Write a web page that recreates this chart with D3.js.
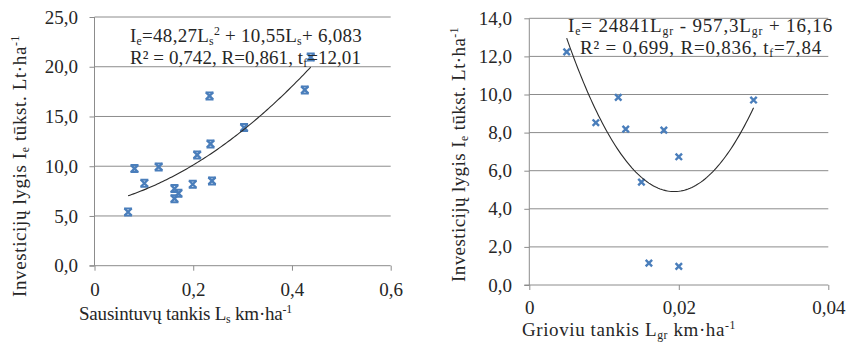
<!DOCTYPE html>
<html><head><meta charset="utf-8">
<script src="https://cdn.jsdelivr.net/npm/d3@7"></script>
<style>
body{margin:0;background:#fff;}
svg{display:block;font-family:"Liberation Serif","Times New Roman",serif;}
</style></head>
<body>
<svg id="c" width="847" height="342"></svg>
<script>
// ---- Left chart data ----
const leftX = [0.068, 0.081, 0.101, 0.130, 0.162, 0.170, 0.162, 0.199, 0.208, 0.233, 0.235, 0.238, 0.303, 0.426, 0.438];
const leftY = [5.40, 9.76, 8.29, 9.93, 7.75, 7.28, 6.74, 8.19, 11.14, 17.07, 12.24, 8.52, 13.88, 17.67, 20.97];
const leftXTicks = [0, 0.2, 0.4, 0.6];
const leftXTickLabels = ["0", "0,2", "0,4", "0,6"];
const leftYTicks = [0, 5, 10, 15, 20, 25];
const leftYTickLabels = ["0,0", "5,0", "10,0", "15,0", "20,0", "25,0"];
const leftFit = [48.27, 10.55, 6.083]; // a, b, c

// ---- Right chart data ----
const rightX = [0.0050, 0.0089, 0.0119, 0.0129, 0.0150, 0.0160, 0.0180, 0.0200, 0.0200, 0.0300];
const rightY = [12.24, 8.52, 9.85, 8.18, 5.40, 1.15, 8.13, 6.73, 0.98, 9.71];
const rightXTicks = [0, 0.02, 0.04];
const rightXTickLabels = ["0", "0,02", "0,04"];
const rightYTicks = [0, 2, 4, 6, 8, 10, 12, 14];
const rightYTickLabels = ["0,0", "2,0", "4,0", "6,0", "8,0", "10,0", "12,0", "14,0"];

// least-squares quadratic fit
function quadFit(xs, ys){
  let n=xs.length, S=[0,0,0,0,0], T=[0,0,0];
  for(let i=0;i<n;i++){const x=xs[i],y=ys[i];
    for(let k=0;k<5;k++)S[k]+=Math.pow(x,k);
    for(let k=0;k<3;k++)T[k]+=y*Math.pow(x,k);}
  const M=[[S[4],S[3],S[2],T[2]],[S[3],S[2],S[1],T[1]],[S[2],S[1],S[0],T[0]]];
  for(let i=0;i<3;i++){for(let j=i+1;j<3;j++){const f=M[j][i]/M[i][i];for(let k=i;k<4;k++)M[j][k]-=f*M[i][k];}}
  const r=[0,0,0];
  for(let i=2;i>=0;i--){let s=M[i][3];for(let k=i+1;k<3;k++)s-=M[i][k]*r[k];r[i]=s/M[i][i];}
  return r;
}
const rightFit = quadFit(rightX, rightY);

const svg = d3.select("#c");
const GRID = "#8c8c8c", AXIS = "#8c8c8c", MARK = "#4a7ebb", TXT = "#262626";
const FS = 19;

function drawPanel(o){
  const g = svg.append("g");
  const x = d3.scaleLinear().domain(o.xd).range(o.xr);
  const y = d3.scaleLinear().domain(o.yd).range(o.yr);
  g.selectAll(".gl").data(o.yTicks.slice(1)).join("line")
    .attr("x1", o.xr[0]).attr("x2", o.xr[1])
    .attr("y1", d=>y(d)).attr("y2", d=>y(d))
    .attr("stroke", GRID).attr("stroke-width", 1);
  const ya = d3.axisLeft(y).tickValues(o.yTicks).tickFormat((d,i)=>o.yLabels[i]).tickSize(5).tickPadding(o.ypad);
  const yg = g.append("g").attr("transform", `translate(${o.xr[0]},0)`).call(ya);
  const xa = d3.axisBottom(x).tickValues(o.xTicks).tickFormat((d,i)=>o.xLabels[i]).tickSize(5).tickPadding(o.xpad);
  const xg = g.append("g").attr("transform", `translate(0,${o.yr[0]})`).call(xa);
  [yg,xg].forEach(a=>{
    a.select(".domain").remove();
    a.selectAll(".tick line").attr("stroke", AXIS);
    a.selectAll("text").attr("font-size", FS).attr("fill",TXT).attr("font-family","Liberation Serif");
  });
  g.append("line").attr("x1",o.xr[0]).attr("x2",o.xr[0]).attr("y1",o.yr[1]).attr("y2",o.yr[0]).attr("stroke",AXIS);
  g.append("line").attr("x1",o.xr[0]-5).attr("x2",o.xr[1]).attr("y1",o.yr[0]).attr("y2",o.yr[0]).attr("stroke",AXIS);

  const pts = o.xs.map((v,i)=>[v,o.ys[i]]);
  const s = o.msize;
  const mg = g.selectAll(".m").data(pts).join("g").attr("transform", d=>`translate(${x(d[0])},${y(d[1])})`);
  mg.append("path").attr("d", `M${-s},${-s}L${s},${s}M${-s},${s}L${s},${-s}`)
    .attr("stroke", MARK).attr("stroke-width", o.mw).attr("fill","none");
  if(o.bowtie){
    mg.append("path").attr("d", `M${-s-0.5},${-s}L${s+0.5},${-s}M${-s-0.5},${s}L${s+0.5},${s}`)
      .attr("stroke", MARK).attr("stroke-width", 2);
  }

  const [a,b,c] = o.fit;
  const x0 = d3.min(o.xs), x1 = d3.max(o.xs);
  const xsLine = d3.range(0, 101).map(i => x0 + (x1-x0)*i/100);
  g.append("path").datum(xsLine)
    .attr("d", d3.line().x(d=>x(d)).y(d=>y(a*d*d+b*d+c)))
    .attr("fill","none").attr("stroke","#2b2b2b").attr("stroke-width",1.1);
  return g;
}

drawPanel({xd:[0,0.6], xr:[94.5,390.7], yd:[0,25], yr:[265.7,17],
  xTicks:leftXTicks, xLabels:leftXTickLabels, yTicks:leftYTicks, yLabels:leftYTickLabels,
  xs:leftX, ys:leftY, fit:leftFit, msize:3.5, mw:2.4, bowtie:true, ypad:11.5, xpad:12});
drawPanel({xd:[0,0.04], xr:[529.3,828.3], yd:[0,14], yr:[285,18.3],
  xTicks:rightXTicks, xLabels:rightXTickLabels, yTicks:rightYTicks, yLabels:rightYTickLabels,
  xs:rightX, ys:rightY, fit:rightFit, msize:3.2, mw:2.4, bowtie:false, ypad:12.3, xpad:11});

// rich text helper: parts = [[text, "n"|"sub"|"sup"], ...]; width = target length
function rich(parent, x, y, parts, opts={}){
  const fs = opts.fs||FS;
  const t = parent.append("text").attr("x",x).attr("y",y).attr("font-size",fs).attr("fill",TXT)
    .attr("text-anchor", opts.anchor||"start");
  if(opts.rotate) t.attr("transform", `rotate(-90,${x},${y})`);
  parts.forEach(([s,k])=>{
    const ts = t.append("tspan").text(s);
    if(k==="sub") ts.attr("font-size",fs*0.62).attr("baseline-shift","-22%");
    else if(k==="sup") ts.attr("font-size",fs*0.62).attr("baseline-shift","55%");
  });
  if(opts.width){
    const w = t.node().getComputedTextLength();
    const n = parts.reduce((acc,p)=>acc+[...p[0]].length,0);
    t.attr("letter-spacing", (opts.width - w)/n);
  }
  return t;
}

// equations
rich(svg, 130, 41.5, [["I","n"],["e","sub"],["=48,27L","n"],["s","sub"],["2","sup"],[" + 10,55L","n"],["s","sub"],["+ 6,083","n"]], {width:232});
rich(svg, 130, 64, [["R² = 0,742, R=0,861, t","n"],["f","sub"],["=12,01","n"]], {width:231});
rich(svg, 568, 32, [["I","n"],["e","sub"],["= 24841L","n"],["gr","sub"],[" - 957,3L","n"],["gr","sub"],[" + 16,16","n"]], {width:265});
rich(svg, 580, 54, [["R² = 0,699, R=0,836, t","n"],["f","sub"],["=7,84","n"]], {width:242});

// axis titles
rich(svg, 79, 319.5, [["Sausintuvų tankis L","n"],["s","sub"],[" km·ha","n"],["-1","sup"]], {width:213});
rich(svg, 522, 335.5, [["Grioviu tankis L","n"],["gr","sub"],[" km·ha","n"],["-1","sup"]], {width:214});
rich(svg, 25.5, 166, [["Investicijų lygis I","n"],["e","sub"],[" tūkst. Lt·ha","n"],["-1","sup"]], {anchor:"middle", rotate:true, width:262});
rich(svg, 465, 154.5, [["Investicijų lygis I","n"],["e","sub"],[" tūkst. Lt·ha","n"],["-1","sup"]], {anchor:"middle", rotate:true, width:255});
</script>
</body></html>
